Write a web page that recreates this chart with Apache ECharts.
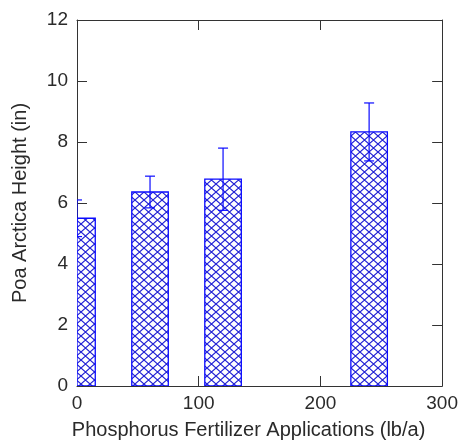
<!DOCTYPE html>
<html>
<head>
<meta charset="utf-8">
<script src="https://cdn.jsdelivr.net/npm/echarts@6/dist/echarts.min.js"></script>
<style>
html,body{margin:0;padding:0;background:#fff;}
#chart{width:461px;height:447px;}
</style>
</head>
<body>
<div id="chart"></div>
<script>
// ---- data ----
const rates = [0, 60, 120, 240];          // Phosphorus fertilizer application (lb/a)
const heights = [5.5, 6.36, 6.78, 8.33];  // Poa arctica height (in)
const errors = [0.6, 0.52, 1.02, 0.95];   // error bar half-length (in)
const xTicks = [0, 100, 200, 300];
const yTicks = [0, 2, 4, 6, 8, 10, 12];

const BAR_HALF = 15;  // half bar width in x-axis units
const CAP_PX = 5;
const FONT = 'Liberation Sans, Arial, sans-serif';

// cross-hatch pattern
const pc = document.createElement('canvas');
pc.width = 9; pc.height = 8;
const g = pc.getContext('2d');
g.fillStyle = '#ffffff';
g.fillRect(0, 0, 9, 8);
g.strokeStyle = 'rgba(20,20,210,0.95)';
g.lineWidth = 1.1;
g.beginPath();
g.moveTo(-0.5, -0.5); g.lineTo(9.5, 8.5);
g.moveTo(-0.5, 8.5); g.lineTo(9.5, -0.5);
g.stroke();

const chart = echarts.init(document.getElementById('chart'), null, {renderer: 'canvas'});

const axisLine = {show: true, onZero: false, lineStyle: {color: '#333', width: 1}};
const axisTick = {show: true, inside: true, length: 10, lineStyle: {color: '#333', width: 1}};
const labelStyle = {fontSize: 19, color: '#2a2a2a', fontFamily: FONT};

const barData = rates.map((r, i) => [r, heights[i]]);
const errData = rates.map((r, i) => [r, heights[i], errors[i]]);

chart.setOption({
  backgroundColor: '#ffffff',
  animation: false,
  grid: {left: 77, top: 20, width: 366, height: 366, containLabel: false},
  xAxis: [
    {
      type: 'value', position: 'bottom', min: xTicks[0], max: xTicks[xTicks.length - 1], interval: 100,
      axisLine, axisTick,
      axisLabel: Object.assign({margin: 8}, labelStyle),
      splitLine: {show: false},
      name: 'Phosphorus Fertilizer Applications (lb/a)',
      nameLocation: 'middle', nameGap: 34,
      nameTextStyle: {fontSize: 20, color: '#2a2a2a', fontFamily: FONT, padding: [0, 22, 0, 0]}
    },
    {
      type: 'value', position: 'top', min: xTicks[0], max: xTicks[xTicks.length - 1], interval: 100,
      axisLine, axisTick, axisLabel: {show: false}, splitLine: {show: false}
    }
  ],
  yAxis: [
    {
      type: 'value', position: 'left', min: yTicks[0], max: yTicks[yTicks.length - 1], interval: 2,
      axisLine, axisTick,
      axisLabel: Object.assign({margin: 9}, labelStyle),
      splitLine: {show: false},
      name: 'Poa Arctica Height (in)',
      nameLocation: 'middle', nameGap: 47,
      nameTextStyle: {fontSize: 20, color: '#2a2a2a', fontFamily: FONT}
    },
    {
      type: 'value', position: 'right', min: yTicks[0], max: yTicks[yTicks.length - 1], interval: 2,
      axisLine, axisTick, axisLabel: {show: false}, splitLine: {show: false}
    }
  ],
  series: [
    {
      type: 'custom',
      xAxisIndex: 0, yAxisIndex: 0,
      clip: true,
      data: barData,
      renderItem: function (params, api) {
        const x = api.value(0), y = api.value(1);
        const p0 = api.coord([x - BAR_HALF, y]);
        const p1 = api.coord([x + BAR_HALF, 0]);
        const left = Math.max(p0[0], params.coordSys.x);
        return {
          type: 'rect',
          shape: {x: left, y: p0[1], width: p1[0] - left, height: p1[1] - p0[1]},
          style: {fill: {image: pc, repeat: 'repeat'}, stroke: '#0a0aff', lineWidth: 1.3}
        };
      },
      z: 2
    },
    {
      type: 'custom',
      xAxisIndex: 0, yAxisIndex: 0,
      clip: true,
      data: errData,
      renderItem: function (params, api) {
        const x = api.value(0), y = api.value(1), e = api.value(2);
        const top = api.coord([x, y + e]);
        const bot = api.coord([x, y - e]);
        const st = {stroke: '#0a0aff', lineWidth: 1.2};
        return {
          type: 'group',
          children: [
            {type: 'line', shape: {x1: top[0], y1: top[1], x2: bot[0], y2: bot[1]}, style: st},
            {type: 'line', shape: {x1: top[0] - CAP_PX, y1: top[1], x2: top[0] + CAP_PX, y2: top[1]}, style: st},
            {type: 'line', shape: {x1: bot[0] - CAP_PX, y1: bot[1], x2: bot[0] + CAP_PX, y2: bot[1]}, style: st}
          ]
        };
      },
      z: 3
    }
  ]
});
</script>
</body>
</html>
